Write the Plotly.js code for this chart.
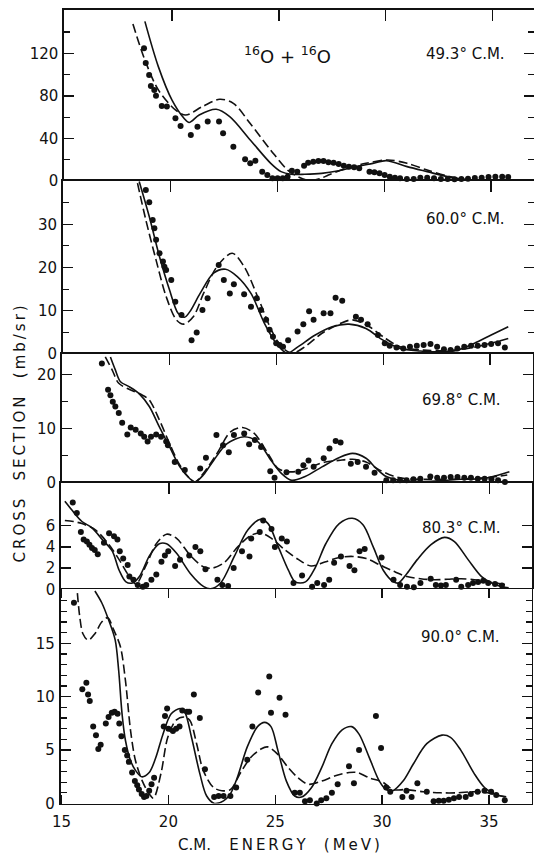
<!DOCTYPE html>
<html>
<head>
<meta charset="utf-8">
<script src="https://cdn.plot.ly/plotly-3.0.1.min.js"></script>
<style>
  html, body { margin: 0; padding: 0; background: #fff; }
  #chart { width: 534px; height: 854px; }
</style>
</head>
<body>
<div id="chart"></div>
<script>
// ---------- Panel 1 : 49.3 deg C.M. ----------
const p1DotE = [18.69,18.77,18.93,19.01,19.17,19.25,19.52,19.76,20.16,20.40,20.88,21.19,21.67,22.20,22.39,22.87,23.42,23.66,23.90,24.22,24.46,24.70,24.94,25.18,25.41,25.61,25.86,26.18,26.37,26.61,26.85,27.09,27.32,27.56,27.80,28.04,28.28,28.52,28.76,29.24,29.47,29.71,29.95,30.19,30.43,30.67,30.99,31.31,31.62,31.94,32.26,32.58,32.90,33.22,33.54,33.85,34.17,34.49,34.81,35.13,35.45,35.73];
const p1DotS = [124.8,111,99.7,89.3,85.6,80,70.5,70,59,51.7,43.3,51,55.8,55.8,44.8,32.3,20.4,16.6,19.1,8.8,5.6,2.5,2.5,2.5,4,9.7,8.8,14.4,17.2,18.2,18.8,18.8,17.6,17.2,16,14.4,13.5,12.9,11.9,8.8,8.2,7.2,5.6,4.1,3.1,2.5,1.9,1.9,3.1,3.1,2.5,1.9,1.9,1.6,1.9,2.2,2.8,3.1,3.8,4.1,4.1,3.8];
const p1SolidE = [18.73,19.36,20.0,20.56,20.8,21.27,22.07,22.7,23.66,24.62,25.1,25.57,26.21,27.0,27.8,28.6,29.4,30.03,31.0,31.94,32.9,33.85,34.8,35.8];
const p1SolidS = [150,107.5,76,59,55,62,67.4,60.5,38.6,16.6,8.8,6.3,6.3,7.2,9.7,13.5,16.6,19.1,13.5,8.8,4.1,1,0.6,0.8];
const p1DashE = [18.17,18.73,19.36,20.16,20.64,21.43,22.23,22.87,23.66,24.62,25.41,25.9,26.4,26.9,27.32,28.12,29.08,30.1,31.0,31.94,32.9,33.85,34.8,35.8];
const p1DashS = [147.6,113.8,85.6,66.8,62,70,76.8,73,54,29,10.3,4,0.5,2,5.6,11.9,16.6,19.8,16.6,10.3,4.7,1,0.5,0.5];

// ---------- Panel 2 : 60.0 deg C.M. ----------
const p2DotE = [18.84,19.0,19.16,19.24,19.32,19.48,19.64,19.71,19.79,20.03,20.22,20.51,20.98,21.22,21.49,21.73,22.25,22.49,22.77,22.96,23.44,23.76,24.03,24.23,24.47,24.63,24.79,24.94,25.10,25.26,25.50,25.94,26.21,26.48,26.69,27.16,27.48,27.72,28.03,28.67,28.91,29.22,29.70,30.02,30.25,30.57,30.89,31.2,31.52,31.84,32.16,32.47,32.79,33.1,33.42,33.74,34.06,34.37,34.69,35.0,35.32,35.64];
const p2DotS = [37.9,35.1,31.0,29.1,26.4,23.3,21.4,20.2,19.4,17.1,12.1,9.0,3.2,5.0,10.2,12.9,20.6,17.1,14.0,16.1,13.8,10.9,12.9,10.2,7.9,5.6,4.0,2.5,2.1,1.7,3.2,5.2,6.9,9.9,7.9,9.4,9.4,13.0,12.3,8.6,7.9,6.9,4.4,2.5,1.9,1.5,1.3,1.7,1.9,2.1,2.3,1.7,1.1,0.9,1.3,1.7,1.9,1.9,2.1,2.3,2.5,1.5];
const p2SolidE = [18.53,19.0,19.48,19.95,20.35,20.65,20.9,21.38,22.01,22.57,23.12,23.76,24.39,24.94,25.45,25.97,26.77,27.56,28.35,29.14,29.94,30.73,31.68,32.63,33.42,34.22,35.0,35.8];
const p2SolidS = [39.9,31.8,22.5,14.8,9.4,8.5,9.8,14.0,18.7,19.6,17.9,14.0,7.1,2.5,0.2,1.7,4.4,6.3,6.9,5.9,3.2,1.3,0.7,0.5,0.9,2.5,4.4,6.3];
const p2DashE = [18.45,18.84,19.32,19.79,20.27,20.62,21.06,21.54,22.17,22.88,23.44,24.07,24.71,25.18,25.7,26.29,27.08,27.88,28.51,29.3,29.94,30.73,31.84,32.95,33.9,34.85,35.8];
const p2DashS = [39.5,31,21.7,13.3,7.9,6.9,8.6,14.0,20.2,23.3,20.2,13.3,5.6,1.7,0.2,1.7,4.8,6.9,7.9,6.3,4.0,1.7,0.9,0.8,1.3,2.3,3.6];

// ---------- Panel 3 : 69.8 deg C.M. ----------
const p3DotE = [16.83,17.12,17.23,17.34,17.46,17.62,17.78,18.02,18.18,18.41,18.65,18.81,18.97,19.13,19.37,19.60,19.84,19.92,20.24,20.71,21.43,21.70,22.19,22.50,22.77,23.01,23.49,23.72,23.99,24.28,24.71,24.91,25.47,26.02,26.26,26.50,26.74,27.21,27.48,27.77,28.00,28.48,28.80,29.19,29.59,30.14,30.46,30.78,31.09,31.41,31.73,32.2,32.52,32.84,33.15,33.47,33.79,34.1,34.42,34.74,35.06,35.37,35.69];
const p3DotS = [22.1,17.2,16.2,15.0,14.1,12.9,11.1,8.9,10.2,9.8,9.1,8.5,7.6,8.5,8.9,8.5,7.6,6.9,3.8,2.3,2.6,4.6,8.8,6.9,5.6,8.8,9.1,7.1,7.9,6.6,2.1,0.9,1.9,2.0,3.2,4.1,2.9,4.5,6.3,7.7,7.4,3.5,3.8,2.9,1.8,0.4,0.4,0.4,0.4,0.6,0.7,1.1,0.9,0.9,1.0,1.0,0.9,0.9,0.7,0.7,0.6,0.4,0.1];
const p3SolidE = [17.23,17.46,17.70,18.1,18.57,19.05,19.52,20.0,20.48,20.95,21.19,21.58,22.06,22.69,23.49,24.12,24.75,25.23,25.71,26.34,27.13,27.92,28.56,29.19,29.67,30.14,30.78,31.73,32.68,33.63,34.58,35.2,35.9];
const p3SolidS = [23.3,20.9,18.7,17.8,16.5,14.1,10.3,6.6,2.9,0.7,0.1,1.4,4.1,7.2,8.5,7.6,4.1,1.7,0.4,1.1,2.9,4.6,5.4,4.5,2.6,1.1,0.4,0.2,0.3,0.6,0.7,1.2,2.0];
const p3DashE = [16.99,17.31,17.62,18.1,18.73,19.05,19.52,20.0,20.48,20.95,21.19,21.58,22.22,22.85,23.41,23.96,24.6,25.07,25.55,26.02,26.66,27.29,27.92,28.56,29.19,29.83,30.46,31.09,32.04,32.98,33.93,34.88,35.8];
const p3DashS = [23.3,20.9,18.4,17.3,16.2,15.3,11.6,7.2,3.2,0.7,0.1,1.7,5.4,9.4,10.2,9.1,5.4,2.6,2.0,2.1,3.0,3.8,4.1,4.3,3.8,2.3,1.2,0.7,0.6,0.6,0.7,0.9,1.4];

// ---------- Panel 4 : 80.3 deg C.M. ----------
const p4DotE = [15.5,15.69,15.88,16.01,16.16,16.28,16.40,16.53,16.67,16.96,17.2,17.43,17.59,17.70,17.86,18.07,18.15,18.34,18.54,18.78,18.94,19.18,19.41,19.65,19.81,19.97,20.29,20.52,20.95,21.24,21.47,21.71,22.27,22.5,22.77,23.03,23.42,23.77,23.85,24.25,24.41,24.8,24.96,25.28,25.52,25.83,26.23,26.7,26.94,27.26,27.5,27.73,28.05,28.45,28.68,28.92,29.16,29.95,30.51,30.82,31.14,31.46,31.77,32.25,32.49,32.73,32.96,33.44,33.68,34.0,34.23,34.47,34.71,34.94,35.26,35.58];
const p4DotS = [8.2,7.2,5.4,4.7,4.5,4.2,3.9,3.7,3.3,4.4,5.3,5.0,4.7,3.6,2.9,2.3,1.2,0.9,0.4,0.25,0.4,0.9,1.4,2.6,3.2,3.6,2.2,2.8,3.2,4.0,3.6,1.9,0.9,0.4,0.3,2.0,3.6,3.1,4.8,5.4,6.5,5.7,4.0,4.8,4.5,0.6,1.3,0.25,0.6,0.4,0.9,2.5,3.1,2.2,1.8,3.6,3.8,3.0,0.9,0.4,0.25,0.2,0.6,1.0,0.4,0.35,0.4,0.9,0.25,0.4,0.6,0.7,0.8,0.6,0.5,0.35];
const p4SolidE = [15.13,15.45,15.93,16.40,16.88,17.35,17.67,17.99,18.3,18.62,19.1,19.55,19.89,20.36,21.0,21.63,21.95,22.42,23.06,23.69,24.28,24.64,25.12,25.59,25.91,26.39,26.86,27.34,27.97,28.58,29.08,29.56,30.03,30.51,30.74,31.14,31.62,32.25,32.9,33.36,34.0,34.63,35.1,35.58,35.9];
const p4SolidS = [8.3,7.5,6.4,5.8,4.7,3.6,1.8,0.7,0.6,1.2,3.2,4.3,4.3,3.4,1.5,0.25,0.05,0.6,3.1,5.6,6.6,6.2,4.0,1.8,0.7,0.7,2.1,4.3,6.2,6.7,6.1,4.0,1.8,0.7,0.6,1.5,2.8,4.2,4.9,4.5,2.8,1.2,0.6,0.25,0.15];
const p4DashE = [15.13,15.53,15.93,16.56,17.2,17.67,18.15,18.46,18.94,19.41,19.89,20.36,21.0,21.63,22.03,22.58,23.22,23.85,24.33,24.8,25.44,26.07,26.65,27.34,27.97,28.61,29.24,29.87,30.51,31.14,31.77,32.41,33.04,33.68,34.3,34.94,35.58,35.9];
const p4DashS = [6.5,6.4,6.2,5.6,4.2,2.8,1.2,0.5,2.3,4.3,5.2,4.8,3.2,2.1,2.0,2.5,4.0,5.1,5.3,4.8,3.7,2.8,2.2,2.6,3.0,3.1,2.9,2.3,1.7,1.2,1.0,0.9,0.95,1.0,0.9,0.7,0.5,0.4];

// ---------- Panel 5 : 90.0 deg C.M. ----------
const p5DotE = [15.58,15.97,16.16,16.24,16.32,16.48,16.61,16.72,16.83,17.07,17.2,17.35,17.48,17.62,17.70,17.80,17.96,18.07,18.15,18.30,18.43,18.54,18.62,18.75,18.86,18.97,19.1,19.21,19.33,19.78,19.84,19.94,20.0,20.21,20.36,20.52,20.65,20.87,20.97,21.19,21.47,21.71,22.14,22.35,22.58,22.9,23.17,23.69,23.93,24.2,24.72,24.8,25.2,25.48,25.91,26.15,26.39,26.62,26.94,27.15,27.39,27.65,27.92,28.45,28.68,28.92,29.71,29.95,30.19,30.38,30.95,31.14,31.38,31.65,32.09,32.41,32.65,32.88,33.12,33.36,33.6,33.91,34.15,34.47,34.79,35.1,35.34,35.74];
const p5DotS = [18.8,10.7,11.3,10.2,9.6,7.2,6.4,5.1,5.5,7.5,8.1,8.5,8.6,8.4,7.5,6.3,5.0,4.5,3.9,2.9,2.1,1.7,1.3,0.9,0.6,0.7,1.2,1.8,2.4,7.2,8.2,8.9,7.0,6.8,7.0,7.2,8.7,8.6,8.6,10.2,8.0,3.2,0.6,0.7,0.7,0.7,1.5,4.1,7.2,10.4,11.9,8.5,9.9,8.3,1.0,1.0,0.2,0.3,0.0,0.3,0.5,1.0,1.8,3.5,1.9,5.0,8.2,5.2,1.5,1.1,0.6,1.2,0.6,1.9,1.1,0.2,0.25,0.25,0.35,0.5,0.6,0.6,0.9,1.1,1.2,1.1,0.8,0.3];
const p5SolidE = [16.56,16.88,17.2,17.51,17.67,17.83,17.99,18.23,18.46,18.75,19.1,19.41,19.73,20.13,20.55,20.76,21.08,21.47,21.79,22.15,22.58,22.9,23.22,23.69,24.17,24.5,24.8,25.12,25.52,25.91,26.23,26.7,27.18,27.65,28.13,28.58,28.92,29.4,29.87,30.19,30.5,30.98,31.46,32.09,32.8,33.2,33.68,34.31,34.79,35.26,35.74];
const p5SolidS = [19.9,18.8,17.2,15.3,12.5,8.4,5.9,4.0,3.1,2.5,2.9,4.3,6.4,8.4,8.9,8.6,6.2,2.8,0.7,0.0,0.25,0.9,2.4,5.3,7.2,7.6,7.2,5.0,2.1,0.7,0.6,1.5,3.4,5.6,6.9,7.2,6.5,4.3,2.1,1.3,1.2,2.1,3.7,5.6,6.4,6.2,5.0,2.8,1.5,0.9,0.6];
const p5DashE = [15.74,15.85,16.0,16.24,16.56,16.88,17.16,17.43,17.75,17.99,18.23,18.46,18.78,19.1,19.3,19.65,19.97,20.36,20.75,21.0,21.32,21.63,22.11,22.5,22.9,23.38,23.85,24.33,24.64,25.12,25.59,26.07,26.55,27.18,27.81,28.45,28.84,29.4,30.03,30.51,31.14,31.93,32.73,33.52,34.31,34.94,35.58,35.9];
const p5DashS = [19.7,17.5,15.9,15.3,15.9,17.0,17.4,16.3,14.7,11.5,6.8,4.0,2.1,0.9,0.5,2.8,6.2,7.8,8.1,7.8,5.6,3.1,1.5,1.2,1.3,2.9,4.3,5.1,5.3,4.6,3.4,2.4,1.8,2.1,2.6,2.9,2.9,2.4,2.0,1.3,1.3,1.1,1.0,1.0,1.1,1.0,0.7,0.6];

// ---------- labels ----------
const angleLabels = ["49.3° C.M.", "60.0° C.M.", "69.8° C.M.", "80.3° C.M.", "90.0° C.M."];
const reactionLabel = "<sup>16</sup>O + <sup>16</sup>O";
const xTickVals = [15, 20, 25, 30, 35];
const xTickText = ["15", "20", "25", "30", "35"];
const yMajor = [[0,40,80,120],[0,10,20,30],[0,10,20],[0,2,4,6],[0,5,10,15]];
const yMinor = [[20,60,100,140],[5,15,25,35],[5,15],[],[1,2,3,4,6,7,8,9,11,12,13,14,16,17,18,19]];
const yRanges = [[0,160.7],[0,40],[0,23.84],[0,10.08],[0,20.06]];

// ---------- geometry (pixels) ----------
const W = 534, H = 854;
const ink = '#111';
const pxPerMeV = 21.37;
const eStart = 14.95;
const shift = [3.6, 2.2, 1.2, 0.5, 0];
const leftPx = 60.5, rightPx = 531.7;
const bounds = [10, 181, 354, 482.5, 589.3, 803.5]; // panel edges from top

const panels = [
  [p1DotE,p1DotS,p1SolidE,p1SolidS,p1DashE,p1DashS],
  [p2DotE,p2DotS,p2SolidE,p2SolidS,p2DashE,p2DashS],
  [p3DotE,p3DotS,p3SolidE,p3SolidS,p3DashE,p3DashS],
  [p4DotE,p4DotS,p4SolidE,p4SolidS,p4DashE,p4DashS],
  [p5DotE,p5DotS,p5SolidE,p5SolidS,p5DashE,p5DashS]
];

const traces = [];
const layout = {
  width: W, height: H, autosize: false,
  margin: {l: 0, r: 0, t: 0, b: 0},
  paper_bgcolor: '#fff', plot_bgcolor: '#fff',
  showlegend: false,
  font: {family: 'DejaVu Sans, Arial, sans-serif', size: 15, color: ink},
  annotations: []
};

panels.forEach((p, i) => {
  const n = i + 1;
  const xa = 'x' + (n === 1 ? '' : n), ya = 'y' + (n === 1 ? '' : n);
  traces.push({x: p[2], y: p[3], xaxis: xa, yaxis: ya, mode: 'lines',
    line: {color: ink, width: 1.6, shape: 'spline', smoothing: 0.9}, hoverinfo: 'skip'});
  traces.push({x: p[4], y: p[5], xaxis: xa, yaxis: ya, mode: 'lines',
    line: {color: ink, width: 1.6, shape: 'spline', smoothing: 0.9, dash: '9px,4px'}, hoverinfo: 'skip'});
  traces.push({x: p[0], y: p[1], xaxis: xa, yaxis: ya, mode: 'markers', cliponaxis: false,
    marker: {color: ink, size: 6, line: {width: 0}}, hoverinfo: 'skip'});

  const l = leftPx + shift[i];
  const r = Math.min(rightPx + shift[i], W);
  const xdom = [l / W, r / W];
  const xr = [eStart, eStart + (r - l) / pxPerMeV];
  const ydom = [1 - bounds[i + 1] / H, 1 - bounds[i] / H];
  const last = (i === 4);
  layout['xaxis' + (n === 1 ? '' : n)] = {
    domain: xdom, range: xr, anchor: ya,
    side: last ? 'bottom' : 'top',
    showline: true, linewidth: 1.7, linecolor: ink,
    mirror: last ? 'ticks' : false,
    ticks: 'inside', ticklen: last ? 9 : 11, tickwidth: 1.4, tickcolor: ink,
    tickmode: 'array', tickvals: last ? xTickVals : [20,25,30,35],
    ticktext: last ? xTickText : ['20','25','30','35'],
    showticklabels: last, ticklabelstandoff: 4,
    tickfont: {size: 15, color: ink},
    showgrid: false, zeroline: false, fixedrange: true
  };
  layout['yaxis' + (n === 1 ? '' : n)] = {
    domain: ydom, range: yRanges[i], anchor: xa,
    showline: true, linewidth: 1.7, linecolor: ink, mirror: 'ticks',
    ticks: 'inside', ticklen: 10, tickwidth: 1.4, tickcolor: ink,
    tickmode: 'array', tickvals: yMajor[i], ticktext: yMajor[i].map(String),
    tickfont: {size: 15, color: ink}, ticklabelstandoff: 1,
    minor: yMinor[i].length ? {tickmode: 'array', tickvals: yMinor[i], ticks: 'inside', ticklen: 6, tickwidth: 1.2, tickcolor: ink, showgrid: false} : undefined,
    showgrid: false, zeroline: false, fixedrange: true
  };
});

const anglePos = [[465, 54], [465, 219], [461, 400], [461, 528], [460, 637]];
angleLabels.forEach((t, i) => {
  layout.annotations.push({text: t, xref: 'paper', yref: 'paper',
    x: anglePos[i][0] / W, y: 1 - anglePos[i][1] / H, xanchor: 'center', yanchor: 'middle',
    showarrow: false, font: {size: 15, color: ink}});
});
layout.annotations.push({text: reactionLabel, xref: 'paper', yref: 'paper',
  x: 287 / W, y: 1 - 55 / H, xanchor: 'center', yanchor: 'middle',
  showarrow: false, font: {size: 18, color: ink}});

const th = '\u2009';
const spaced = w => w.split('').join(th);
const gap = th + ' \u2002' + th;
layout.annotations.push({text: spaced('CROSS') + gap + spaced('SECTION') + gap + spaced('(mb/sr)'),
  xref: 'paper', yref: 'paper', x: 20 / W, y: 1 - 434.5 / H, xanchor: 'center', yanchor: 'middle',
  textangle: -90, showarrow: false, font: {size: 15, color: ink}});
layout.annotations.push({text: 'C.M.' + gap + spaced('ENERGY') + gap + spaced('(MeV)'),
  xref: 'paper', yref: 'paper', x: 279 / W, y: 1 - 845 / H, xanchor: 'center', yanchor: 'middle',
  showarrow: false, font: {size: 15, color: ink}});

Plotly.newPlot('chart', traces, layout, {staticPlot: true, displayModeBar: false});
</script>
</body>
</html>
